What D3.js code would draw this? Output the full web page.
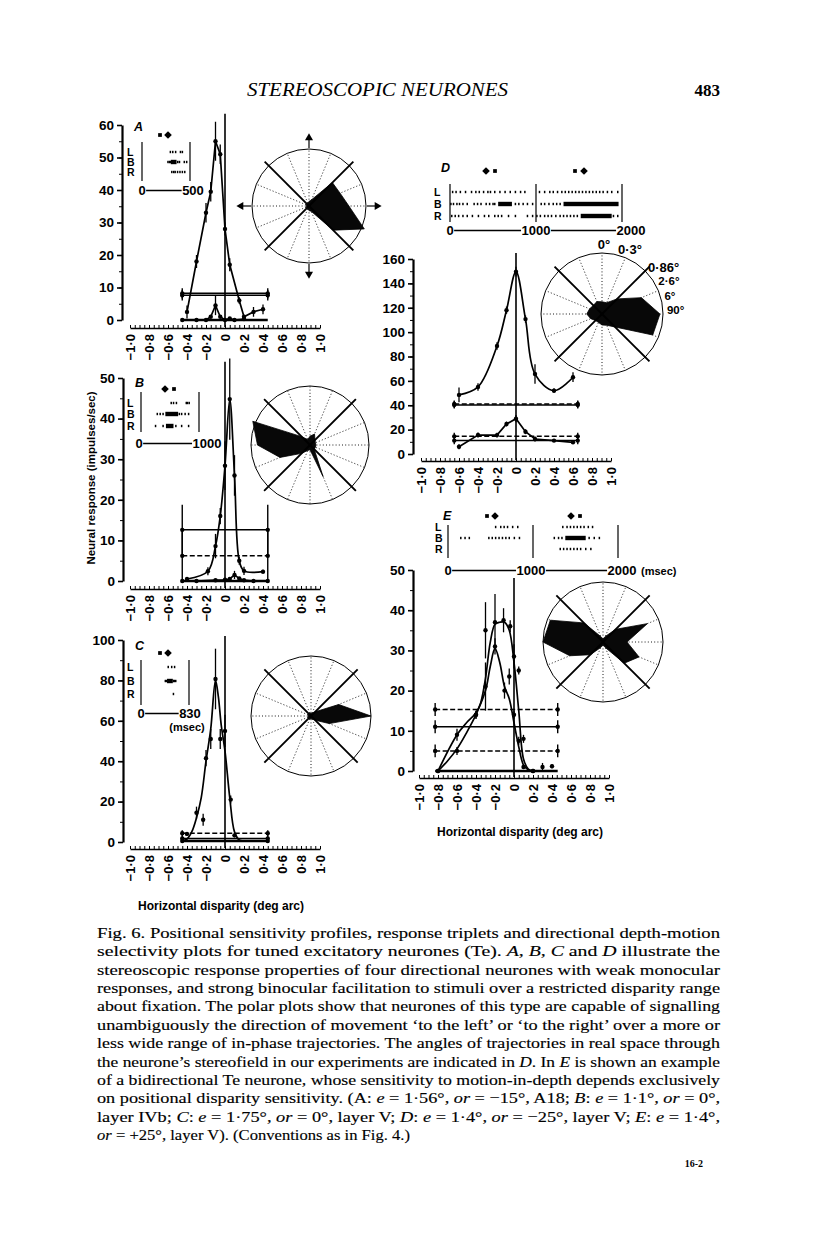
<!DOCTYPE html>
<html><head><meta charset="utf-8">
<script src="https://cdn.jsdelivr.net/npm/d3@7"></script>
<style>body{margin:0;background:#fff}svg{display:block}</style>
</head><body>
<svg id="fig" width="816" height="1243"></svg>
<script>
// ---------------- DATA ----------------
const xTickVals = [-1,-0.8,-0.6,-0.4,-0.2,0,0.2,0.4,0.6,0.8,1];
const xTickText = ["−1·0","−0·8","−0·6","−0·4","−0·2","0","0·2","0·4","0·6","0·8","1·0"];

// Panel A
const aTicks = [0,10,20,30,40,50,60];
const aBinX = [-0.4,-0.3,-0.2,-0.15,-0.1,-0.05,0,0.05,0.15,0.2,0.3,0.4];
const aBinY = [2.5,18,33,39.5,55,51,28,17,6,1,2.5,3.3];
const aBinE = [2,2,3,3,6,3,2,2,1,0,1.5,1.5];
const aMonoX = [-0.45,-0.3,-0.2,-0.15,-0.1,-0.05,0,0.05,0.1,0.2];
const aMonoY = [0,0,0,1,4.5,1,0,0.5,0,0.3];
const aMonoE = [0,0,0,0,3,0,0,0,0,0];
const aLevels = [8.2,7.6,0];
const aLevelCap = [1.6,1.6,0];
const aSpan = [-0.45,0.45];
const aPolar = [0.7,0.59,0.58,0.12,0.08,0.05,0.05,0.05,0.05,0.05,0.05,0.05,0.08,0.1,0.6,1.05];
const aSpikeL = [295,320,350,400,420];
const aSpikeB = [270,285,295,372,390,440,465];
const aSpikeR = [310,330,345,370,395,420,445];
const aBurstB = [[300,360]];
const aTimeLabels = ["0","500"];
const aTimes = [0,500];

// Panel B
const bTicks = [0,10,20,30,40,50];
const bBinX = [-0.4,-0.18,-0.1,-0.05,0,0.05,0.1,0.15,0.2,0.4];
const bBinY = [0.5,2.4,8.6,16,28.4,44.8,26,5,2.5,2.3];
const bBinE = [0.5,1,3,2,6,10,5,1,1,0.5];
const bMonoX = [-0.45,-0.3,-0.1,0,0.05,0.1,0.15,0.2,0.3,0.45];
const bMonoY = [0,0,0.2,0.3,0.5,1.5,0.6,0.2,0,0];
const bMonoE = [0,0,0,0,0,1,0,0,0,0];
const bLevels = [12.6,6.2,0];
const bLevelCap = [6.2,6.2,0];
const bSpan = [-0.45,0.45];
const bPolar = [0.1,0.1,0.12,0.2,0.15,0.1,0.2,1.05,0.89,0.55,0.2,0.1,0.08,0.58,0.1,0.1];
const bSpikeL = [520,560,610,780,800,830];
const bSpikeB = [280,330,380,660,700,760,820];
const bSpikeR = [250,380,600,700,820];
const bBurstB = [[420,640]];
const bBurstR = [[430,560]];
const bTimeLabels = ["0","1000"];
const bTimes = [0,1000];

// Panel C
const cTicks = [0,20,40,60,80,100];
const cBinX = [-0.4,-0.3,-0.23,-0.2,-0.15,-0.1,-0.05,0,0.06,0.1];
const cBinY = [4,14.5,11,41.5,51,80.7,51,55,21,3.3];
const cBinE = [0,3,3,4,5,15,5,8,2,1];
const cFitX = [-0.45,-0.4,-0.35,-0.3,-0.25,-0.2,-0.15,-0.1,-0.07,-0.04,0,0.05,0.1,0.15,0.2,0.45];
const cFitY = [0.5,1.5,5,12,22,40,56,80,72,58,45,22,5,1,0.5,0.5];
const cLevels = [4.3,1.7,0.5];
const cLevelCap = [1.5,1.5,1];
const cSpan = [-0.45,0.45];
const cPolar = [1.0,0.5,0.1,0.05,0.05,0.05,0.05,0.05,0.05,0.05,0.05,0.05,0.05,0.05,0.1,0.33];
const cSpikeL = [470,530,580];
const cSpikeB = [420,440,560,575,600];
const cSpikeR = [560];
const cBurstB = [[450,550]];
const cTimeLabels = ["0","830"];
const cTimes = [0,830];

// Panel D
const dTicks = [0,20,40,60,80,100,120,140,160];
const dBinX = [-0.6,-0.4,-0.2,-0.1,0,0.1,0.2,0.4,0.6];
const dBinY = [48.5,55,88.6,118,149.6,110.7,65.6,52,63];
const dBinE = [6,3,3,3,4,3,8,2,4];
const dMonoY = [6,15.6,15.5,24.6,29,18.3,12.3,11,9.6];
const dMonoE = [2,2,2,2,3,2,2,1,1];
const dLevels = [41,40.3,14.5,11];
const dLevelCap = [3,3,3,3];
const dSpan = [-0.65,0.65];
const dPolar = [0.95,0.7,0.35,0.2,0.2,0.22,0.2,0.22,0.25,0.2,0.15,0.15,0.18,0.2,0.3,0.9];
const dAngleLabels = ["0°","0·3°","0·86°","2·6°","6°","90°"];
const dAngleDeg = [0,22.5,45,60,74,87];
const dSpikeL = [30,70,120,180,250,300,340,390,440,470,520,580,640,700,760,820,870,1040,1100,1160,1200,1250,1300,1340,1380,1420,1460,1500,1540,1580,1620,1660,1700,1740,1780,1830,1880,1950];
const dSpikeB = [10,40,80,110,150,200,280,320,360,420,460,500,520,760,800,850,900,960,1060,1100,1150,1200,1240,1280];
const dSpikeR = [20,60,100,150,200,260,330,400,450,520,560,600,680,760,900,960,1010,1050,1100,1140,1180,1230,1280,1320,1360,1400,1440,1480,1900,1950];
const dBurstB = [[560,720],[1320,1960]];
const dBurstR = [[1520,1880]];
const dTimeLabels = ["0","1000","2000"];
const dTimes = [0,1000,2000];

// Panel E
const eTicks = [0,10,20,30,40,50];
const e1X = [-0.8,-0.6,-0.4,-0.3,-0.2,-0.11,-0.04,0,0.05,0.1,0.2,0.3,0.4];
const e1Y = [0,5,14,35,37,37.5,36,28.5,25,8,0,1,1.2];
const e1E = [0,1,1,7,7,3,1.5,3,1,1,0,1,0.5];
const e1FitX = [-0.8,-0.7,-0.6,-0.5,-0.4,-0.35,-0.3,-0.25,-0.2,-0.15,-0.1,-0.05,0,0.05,0.1,0.15,0.2];
const e1FitY = [0,2.5,5.5,9.5,14,17,23,32,36.5,37,37,35,27,15,3,0.5,0];
const e2X = [-0.8,-0.6,-0.4,-0.3,-0.2,-0.1,-0.05,0,0.05,0.1,0.2];
const e2Y = [0,9,14,21,31,20,23.5,14,7.5,1,0];
const e2E = [0,1.5,1,6,2,2,2,1,1,0.5,0];
const e2FitX = [-0.8,-0.6,-0.5,-0.4,-0.3,-0.25,-0.2,-0.15,-0.1,-0.05,0,0.05,0.1,0.15,0.2];
const e2FitY = [0,9,12,14.5,20,26,30.5,27,21,18,12,6,1.5,0.3,0];
const eLevels = [15.3,11,5,0];
const eLevelCap = [1.6,1.6,1.6,0];
const eSpan = [-0.83,0.46];
const ePolar = [0.4,0.8,0.3,0.1,0.05,0.1,0.45,0.95,1.0,0.6,0.3,0.1,0.05,0.1,0.5,0.65];
const eSpikeL = [560,620,660,700,760,820,1350,1400,1440,1480,1520,1560,1600,1650,1700];
const eSpikeB = [150,200,250,480,520,560,600,640,680,720,780,840,1250,1300,1340,1660,1720,1780];
const eSpikeR = [1320,1360,1400,1440,1480,1520,1560,1620,1680];
const eBurstB = [[1380,1620]];
const eTimeLabels = ["0","1000","2000"];
const eTimes = [0,1000,2000];

// ---------------- DRAWING ----------------
const svg = d3.select("#fig");
const SANS = "'Liberation Sans', Arial, Helvetica, sans-serif";
const SERIF = "'Liberation Serif', 'Times New Roman', serif";

function zip(xs, ys, es){ return xs.map((x,i)=>({x, y:ys[i], e: es ? es[i] : 0})); }

function chart(L, series, levels, caps, span, dashes){
  const g = svg.append("g");
  const x = d3.scaleLinear().domain([-1,1]).range([L.x0, L.x1]);
  const y = d3.scaleLinear().domain([0, L.ymax]).range([L.yb, L.yt]);
  const ya = g.append("g").attr("transform",`translate(${L.ax},0)`)
    .call(d3.axisLeft(y).tickValues(L.ticks).tickSize(5).tickSizeOuter(0).tickPadding(3).tickFormat(d3.format("d")));
  ya.select(".domain").attr("stroke-width",2.2);
  ya.selectAll(".tick line").attr("stroke-width",1.6);
  ya.selectAll("text").attr("font-family",SANS).attr("font-weight","bold").attr("font-size",13.5).attr("fill","#000");
  const minor = d3.range(0, L.ymax+0.001, L.minor);
  g.append("g").attr("transform",`translate(${L.ax},0)`)
    .call(d3.axisLeft(y).tickValues(minor).tickSize(3).tickSizeOuter(0).tickFormat(""))
    .call(s=>s.select(".domain").remove());
  const xa = g.append("g").attr("transform",`translate(0,${L.axisY})`)
    .call(d3.axisTop(x).tickValues(d3.range(-1,1.001,0.05)).tickSize(3).tickSizeOuter(0).tickFormat(""));
  xa.select(".domain").attr("stroke-width",1.6);
  const xl = g.append("g").attr("transform",`translate(0,${L.axisY})`)
    .call(d3.axisBottom(x).tickValues(xTickVals).tickSize(0).tickFormat((d,i)=>xTickText[i]));
  xl.select(".domain").remove();
  xl.selectAll("text").attr("transform","rotate(-90)").attr("x",-6).attr("y",0).attr("dy","0.36em")
    .attr("text-anchor","end").attr("font-family",SANS).attr("font-weight","bold").attr("font-size",13).attr("fill","#000");
  g.append("line").attr("x1",x(0)).attr("x2",x(0)).attr("y1",y(L.zeroTop)).attr("y2",L.axisY-1)
    .attr("stroke","#000").attr("stroke-width",1.6);
  levels.forEach((v,i)=>{
    g.append("line").attr("x1",x(span[0])).attr("x2",x(span[1])).attr("y1",y(v)).attr("y2",y(v))
      .attr("stroke","#000").attr("stroke-width", v<=0.6 ? 2.6 : 1.5)
      .attr("stroke-dasharray", dashes[i] ? "5,2.5" : null);
    if (caps[i] > 0) span.forEach(sx=>{
      g.append("line").attr("x1",x(sx)).attr("x2",x(sx)).attr("y1",y(v-caps[i])).attr("y2",y(v+caps[i]))
        .attr("stroke","#000").attr("stroke-width",1.4);
      g.append("circle").attr("cx",x(sx)).attr("cy",y(v)).attr("r",2.2).attr("fill","#000");
    });
  });
  series.forEach(s=>{
    const pts = zip(s.x, s.y, s.e);
    const line = d3.line().x(d=>x(d.x)).y(d=>y(d.y)).curve(s.smooth ? d3.curveCatmullRom.alpha(0.5) : d3.curveLinear);
    const fit = s.fitX ? zip(s.fitX, s.fitY) : pts;
    g.append("path").datum(fit).attr("d",line).attr("fill","none").attr("stroke","#000").attr("stroke-width",1.7);
    g.selectAll(null).data(pts.filter(d=>d.e>0)).join("line")
      .attr("x1",d=>x(d.x)).attr("x2",d=>x(d.x)).attr("y1",d=>y(Math.max(0,d.y-d.e))).attr("y2",d=>y(d.y+d.e))
      .attr("stroke","#000").attr("stroke-width",1.3);
    g.selectAll(null).data(pts).join("circle")
      .attr("cx",d=>x(d.x)).attr("cy",d=>y(d.y)).attr("r",2.2).attr("fill","#000");
  });
  return {x,y,g};
}

function polar(P, radii, opts={}){
  const g = svg.append("g").attr("transform",`translate(${P.cx},${P.cy})`);
  const R = P.R;
  g.append("circle").attr("r",R).attr("fill","none").attr("stroke","#000").attr("stroke-width",1);
  d3.range(16).forEach(k=>{
    const a = k*22.5*Math.PI/180;
    if (k%4===2) return;
    g.append("line").attr("x1",0).attr("y1",0).attr("x2",R*Math.cos(a)).attr("y2",-R*Math.sin(a))
      .attr("stroke","#000").attr("stroke-width",0.9).attr("stroke-dasharray","1,2.2");
  });
  const poly = radii.map((r,k)=>({a:(90 - k*22.5)*Math.PI/180, r:r*R}));
  g.append("path").attr("d", d3.lineRadial().angle(d=>d.a).radius(d=>d.r).curve(d3.curveLinearClosed)(poly))
    .attr("fill","#080808").attr("stroke","#000").attr("stroke-width",0.8).attr("stroke-linejoin","round");
  [45,135].forEach(deg=>{
    const a = deg*Math.PI/180, e = 1.1*R;
    g.append("line").attr("x1",e*Math.cos(a)).attr("y1",-e*Math.sin(a)).attr("x2",-e*Math.cos(a)).attr("y2",e*Math.sin(a))
      .attr("stroke","#000").attr("stroke-width",1.9);
  });
  if (opts.arrows){
    [0,90,180,270].forEach(deg=>{
      const a = deg*Math.PI/180, c = Math.cos(a), s = -Math.sin(a);
      g.append("line").attr("x1",c*(R+1)).attr("y1",s*(R+1)).attr("x2",c*(R+12)).attr("y2",s*(R+12))
        .attr("stroke","#000").attr("stroke-width",1.2);
      g.append("path").attr("d", d3.symbol(d3.symbolTriangle, 28)())
        .attr("transform",`translate(${c*(R+11)},${s*(R+11)}) rotate(${90-deg})`).attr("fill","#000");
    });
  }
  return g;
}

function raster(T, rows, bursts, times, labels, label){
  const g = svg.append("g");
  const t = d3.scaleLinear().domain([0, T.tmax]).range([T.tx0, T.tx1]);
  ["L","B","R"].forEach((s,i)=>{
    g.append("text").attr("x",T.lx).attr("y",T.rows[i]+3.8).text(s)
      .attr("font-family",SANS).attr("font-weight","bold").attr("font-size",10.5);
  });
  T.bars.forEach(b=>{
    g.append("line").attr("x1",t(b)).attr("x2",t(b)).attr("y1",T.barTop).attr("y2",T.barBot)
      .attr("stroke","#000").attr("stroke-width",1.2);
  });
  rows.forEach((arr,i)=>{
    g.selectAll(null).data(arr).join("rect").attr("x",d=>t(d)-0.7).attr("y",T.rows[i]-1.2)
      .attr("width",1.5).attr("height",2.4).attr("fill","#000");
  });
  bursts.forEach((arr,i)=>{
    g.selectAll(null).data(arr).join("rect").attr("x",d=>t(d[0])).attr("y",T.rows[i]-2.2)
      .attr("width",d=>t(d[1])-t(d[0])).attr("height",4.4).attr("fill","#000");
  });
  const tx = times.map((tm,i)=>g.append("text").attr("x",t(tm)+T.ldx[i]).attr("y",T.ly).attr("text-anchor","middle")
      .attr("font-family",SANS).attr("font-weight","bold").attr("font-size",13).text(labels[i]));
  for (let i=0;i<tx.length-1;i++){
    const b1 = tx[i].node().getBBox(), b2 = tx[i+1].node().getBBox();
    g.append("line").attr("x1",b1.x+b1.width+0.5).attr("x2",b2.x-0.5).attr("y1",T.ly-4.6).attr("y2",T.ly-4.6)
      .attr("stroke","#000").attr("stroke-width",1.5);
  }
  T.marks.forEach(m=>{
    g.append("path").attr("d", d3.symbol(m[2]==="sq" ? d3.symbolSquare : d3.symbolDiamond, m[2]==="sq"?14:26)())
      .attr("transform",`translate(${m[0]},${m[1]})${m[2]==="sq"?"":" scale(1.4,0.8)"}`).attr("fill","#000");
  });
  g.append("text").attr("x",T.px).attr("y",T.py).text(label)
    .attr("font-family",SANS).attr("font-weight","bold").attr("font-style","italic").attr("font-size",12.5);
  return {g,t};
}

// ---- Panel A ----
chart({x0:130,x1:320,yb:320,yt:125,ymax:60,ax:122,axisY:328,ticks:aTicks,minor:5,zeroTop:63.5},
  [{x:aBinX,y:aBinY,e:aBinE},{x:aMonoX,y:aMonoY,e:aMonoE}], aLevels, aLevelCap, aSpan, [false,false,false]);
polar({cx:309,cy:206,R:57}, aPolar, {arrows:true});
raster({tmax:500,tx0:142,tx1:190,lx:127,rows:[152,162,172],bars:[0,500],barTop:142,barBot:181,ly:195,ldx:[0,3],
  marks:[[160,135,"sq"],[168,135,"di"]],px:134,py:131},
  [aSpikeL,aSpikeB,aSpikeR],[[],aBurstB,[]], aTimes, aTimeLabels, "A");

// ---- Panel B ----
chart({x0:130,x1:320,yb:581,yt:378,ymax:50,ax:123,axisY:589,ticks:bTicks,minor:5,zeroTop:54},
  [{x:bBinX,y:bBinY,e:bBinE,smooth:true},{x:bMonoX,y:bMonoY,e:bMonoE}], bLevels, bLevelCap, bSpan, [false,true,false]);
polar({cx:310,cy:445,R:59}, bPolar);
raster({tmax:1000,tx0:141,tx1:199,lx:127,rows:[403,414,426],bars:[0,1000],barTop:392,barBot:432,ly:448,ldx:[-2,8],
  marks:[[165,389,"di"],[174,389,"sq"]],px:135,py:387},
  [bSpikeL,bSpikeB,bSpikeR],[[],bBurstB,bBurstR], bTimes, bTimeLabels, "B");

// ---- Panel C ----
chart({x0:130,x1:320,yb:842,yt:640,ymax:100,ax:123,axisY:849,ticks:cTicks,minor:10,zeroTop:102},
  [{x:cBinX,y:cBinY,e:cBinE,fitX:cFitX,fitY:cFitY,smooth:true}], cLevels, cLevelCap, cSpan, [true,false,false]);
polar({cx:311,cy:716,R:60}, cPolar);
raster({tmax:830,tx0:141,tx1:189,lx:127,rows:[667,681,694],bars:[0,830],barTop:660,barBot:705,ly:718,ldx:[0,1],
  marks:[[160,653,"sq"],[168,653,"di"]],px:135,py:650},
  [cSpikeL,cSpikeB,cSpikeR],[[],cBurstB,[]], cTimes, cTimeLabels, "C");
svg.append("text").attr("x",187).attr("y",731).attr("text-anchor","middle").text("(msec)")
  .attr("font-family",SANS).attr("font-weight","bold").attr("font-size",11);

// ---- Panel D ----
chart({x0:421,x1:611,yb:454,yt:259,ymax:160,ax:413,axisY:461,ticks:dTicks,minor:10,zeroTop:165},
  [{x:dBinX,y:dBinY,e:dBinE,smooth:true},{x:dBinX,y:dMonoY,e:dMonoE}], dLevels, dLevelCap, dSpan, [true,false,true,false]);
const dP = polar({cx:602,cy:314,R:61}, dPolar);
dAngleLabels.forEach((s,i)=>{
  const a = dAngleDeg[i]*Math.PI/180;
  const top = dAngleDeg[i] < 40;
  const r = top ? 61+7 : 61+4;
  dP.append("text").attr("x",r*Math.sin(a)+(top?2:0)).attr("y",-r*Math.cos(a)).attr("dy", top ? "0.2em" : "0.3em")
    .attr("text-anchor", top ? "middle" : "start").text(s)
    .attr("font-family",SANS).attr("font-weight","bold").attr("font-size", top || i===2 ? 13 : 11.5);
});
raster({tmax:2000,tx0:450,tx1:622,lx:434,rows:[192,204,216],bars:[0,1000,2000],barTop:184,barBot:222,ly:235,ldx:[0,0,9],
  marks:[[486,171,"di"],[495,171,"sq"],[575,171,"sq"],[584,171,"di"]],px:441,py:172},
  [dSpikeL,dSpikeB,dSpikeR],[[],dBurstB,dBurstR], dTimes, dTimeLabels, "D");

// ---- Panel E ----
chart({x0:419,x1:609,yb:771,yt:570,ymax:50,ax:413,axisY:778,ticks:eTicks,minor:5,zeroTop:48},
  [{x:e1X,y:e1Y,e:e1E,fitX:e1FitX,fitY:e1FitY,smooth:true},{x:e2X,y:e2Y,e:e2E,fitX:e2FitX,fitY:e2FitY,smooth:true}],
  eLevels, eLevelCap, eSpan, [true,false,true,false]);
polar({cx:603,cy:642,R:60}, ePolar);
raster({tmax:2000,tx0:448,tx1:618,lx:435,rows:[527,538,549],bars:[0,1000,2000],barTop:525,barBot:558,ly:575,ldx:[0,-2,4],
  marks:[[487,516,"sq"],[495,516,"di"],[571,516,"di"],[580,516,"sq"]],px:443,py:520},
  [eSpikeL,eSpikeB,eSpikeR],[[],eBurstB,[]], eTimes, eTimeLabels, "E");
svg.append("text").attr("x",641).attr("y",575).text("(msec)")
  .attr("font-family",SANS).attr("font-weight","bold").attr("font-size",11);

// ---- Axis titles ----
svg.append("text").attr("transform","translate(95,478) rotate(-90)").attr("text-anchor","middle")
  .text("Neural response (impulses/sec)").attr("font-family",SANS).attr("font-weight","bold").attr("font-size",11.5);
svg.append("text").attr("x",221).attr("y",910).attr("text-anchor","middle")
  .text("Horizontal disparity (deg arc)").attr("font-family",SANS).attr("font-weight","bold").attr("font-size",12);
svg.append("text").attr("x",520).attr("y",836).attr("text-anchor","middle")
  .text("Horizontal disparity (deg arc)").attr("font-family",SANS).attr("font-weight","bold").attr("font-size",12);

// ---- Header ----
svg.append("text").attr("x",247).attr("y",96).attr("textLength",261).attr("lengthAdjust","spacingAndGlyphs")
  .text("STEREOSCOPIC NEURONES").attr("font-family",SERIF).attr("font-style","italic").attr("font-size",18);
svg.append("text").attr("x",720).attr("y",96).attr("text-anchor","end")
  .text("483").attr("font-family",SERIF).attr("font-weight","bold").attr("font-size",17);

// ---- Caption ----
const capLines = [
"Fig. 6. Positional sensitivity profiles, response triplets and directional depth-motion",
"selectivity plots for tuned excitatory neurones (Te). *A*, *B*, *C* and *D* illustrate the",
"stereoscopic response properties of four directional neurones with weak monocular",
"responses, and strong binocular facilitation to stimuli over a restricted disparity range",
"about fixation. The polar plots show that neurones of this type are capable of signalling",
"unambiguously the direction of movement ‘to the left’ or ‘to the right’ over a more or",
"less wide range of in-phase trajectories. The angles of trajectories in real space through",
"the neurone’s stereofield in our experiments are indicated in *D*. In *E* is shown an example",
"of a bidirectional Te neurone, whose sensitivity to motion-in-depth depends exclusively",
"on positional disparity sensitivity. (A: *e* = 1·56°, *or* = −15°, A18; *B*: *e* = 1·1°, *or* = 0°,",
"layer IVb; *C*: *e* = 1·75°, *or* = 0°, layer V; *D*: *e* = 1·4°, *or* = −25°, layer V; *E*: *e* = 1·4°,",
"*or* = +25°, layer V). (Conventions as in Fig. 4.)"
];
capLines.forEach((ln,i)=>{
  const t = svg.append("text").attr("x",97).attr("y",938 + i*18.36)
    .attr("font-family",SERIF).attr("font-size",15.5).attr("fill","#000").attr("stroke","#000").attr("stroke-width",0.15)
    .attr("textLength", i < capLines.length-1 ? 623 : 313).attr("lengthAdjust","spacingAndGlyphs");
  ln.split("*").forEach((seg,j)=>{ if (seg.length) t.append("tspan").attr("font-style", j%2 ? "italic" : null).text(seg); });
});
svg.append("text").attr("x",703).attr("y",1167).attr("text-anchor","end").text("16-2")
  .attr("font-family",SERIF).attr("font-weight","bold").attr("font-size",10);
</script>
</body></html>
